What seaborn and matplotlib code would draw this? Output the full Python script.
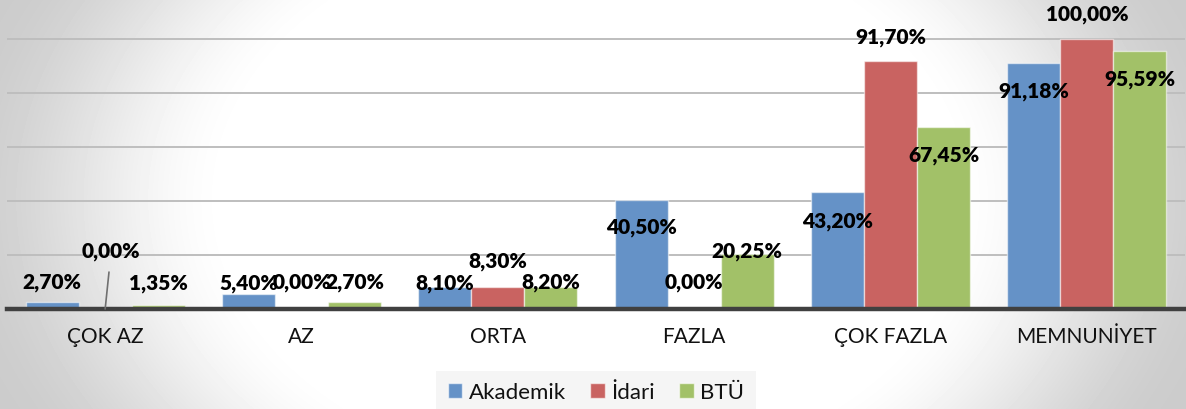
import numpy as np
import pandas as pd
import matplotlib
matplotlib.use("Agg")
import matplotlib.pyplot as plt
import seaborn as sns
from matplotlib.patches import Patch

# Survey results per satisfaction level (percent)
categories = ["ÇOK AZ", "AZ", "ORTA", "FAZLA", "ÇOK FAZLA", "MEMNUNİYET"]
akademik = [2.70, 5.40, 8.10, 40.50, 43.20, 91.18]
idari = [0.00, 0.00, 8.30, 0.00, 91.70, 100.00]
btu = [1.35, 2.70, 8.20, 20.25, 67.45, 95.59]
series_names = ["Akademik", "İdari", "BTÜ"]
series_colors = ["#6592C7", "#C96361", "#A2C168"]

# Value-label placement (pixel offsets from each bar top)
label_offsets = {
    "Akademik": [(0, 20), (0, 12), (0, 5), (0, -27), (0, -28), (0, -28)],
    "İdari": [(6, 58), (0, 27), (0, 26), (0, 27), (0, 25), (0, 25)],
    "BTÜ": [(0, 23), (0, 20), (0, 5), (0, 4), (0, -28), (0, -28)],
}

sns.set_style("white")
plt.rcParams["font.family"] = ["Lato", "DejaVu Sans"]

df = pd.DataFrame({
    "kategori": categories * 3,
    "oran": akademik + idari + btu,
    "seri": [s for s in series_names for _ in categories],
})

W, H, DPI = 1186, 410, 100
fig = plt.figure(figsize=(W / DPI, H / DPI), dpi=DPI)

# soft radial background
bg = fig.add_axes([0, 0, 1, 1], zorder=-10)
yy, xx = np.mgrid[0:H, 0:W]
d = np.sqrt(((xx - 590) / 590.0) ** 2 + ((yy - 200) / 430.0) ** 2)
t = np.clip((d - 0.6) / 0.5, 0, 1)
t = t * t * (3 - 2 * t)
shade = 1 - 0.2 * t
bg.imshow(shade, cmap="gray", vmin=0, vmax=1, aspect="auto",
          extent=[0, 1, 0, 1], origin="upper")
bg.axis("off")

ax = fig.add_axes([7 / W, 100 / H, 1178 / W, 310 / H])
ax.set_facecolor("none")

sns.barplot(data=df, x="kategori", y="oran", hue="seri", order=categories,
            hue_order=series_names, palette=series_colors, saturation=1,
            width=0.81, edgecolor=(1, 1, 1, 0.55), linewidth=1.0,
            legend=False, ax=ax, zorder=3)

ax.set_xlim(-0.5, 5.5)
ax.set_ylim(0, 114.8)
ax.set_yticks([20, 40, 60, 80, 100])
ax.set_yticklabels([])
ax.yaxis.grid(True, color="#BEBEBE", linewidth=1.4)
ax.set_axisbelow(True)
ax.set_xlabel("")
ax.set_ylabel("")
for s in ["top", "left", "right"]:
    ax.spines[s].set_visible(False)
ax.spines["bottom"].set_color("#404040")
ax.spines["bottom"].set_linewidth(3.2)
ax.spines["bottom"].set_zorder(5)
ax.tick_params(axis="both", length=0)
ax.tick_params(axis="x", labelsize=15, pad=12, labelcolor="#111111")

for name, cont in zip(series_names, ax.containers):
    for bar, (dx, dy) in zip(cont, label_offsets[name]):
        v = bar.get_height()
        txt = f"{v:.2f}".replace(".", ",") + "%"
        xc = bar.get_x() + bar.get_width() / 2
        props = None
        if dy > 50:
            props = dict(arrowstyle="-", color="#707070", lw=1.2,
                         shrinkA=6, shrinkB=0)
        ax.annotate(txt, xy=(xc, v), xytext=(dx, dy),
                    textcoords="offset pixels", ha="center", va="center",
                    fontsize=15, fontweight="heavy", color="#000000",
                    arrowprops=props, zorder=6, annotation_clip=False)

handles = [Patch(facecolor=c, edgecolor=(1, 1, 1, 0.6), linewidth=1)
           for c in series_colors]
leg = fig.legend(handles, series_names, loc="center",
                 bbox_to_anchor=(596 / W, 1 - 393 / H), ncol=3,
                 frameon=True, fontsize=16, handlelength=0.65,
                 handleheight=0.65, handletextpad=0.3, columnspacing=1.1,
                 borderpad=0.5, fancybox=False)
leg.get_frame().set_facecolor("#F3F3F3")
leg.get_frame().set_edgecolor("none")
for t_ in leg.get_texts():
    t_.set_color("#111111")

fig.savefig("out.png", dpi=DPI)
